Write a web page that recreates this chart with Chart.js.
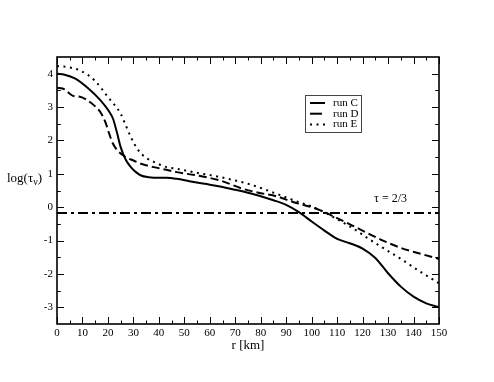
<!DOCTYPE html>
<html>
<head>
<meta charset="utf-8">
<script src="https://cdn.jsdelivr.net/npm/chart.js@4/dist/chart.umd.min.js"></script>
<style>
  html, body { margin: 0; padding: 0; background: #fff; }
  #wrap { width: 494px; height: 382px; }
</style>
</head>
<body>
<div id="wrap"><canvas id="tauChart" width="494" height="382"></canvas></div>
<script>
// r [km] and log(tau_v)
const rC = [0, 3, 7, 12, 17, 20, 22, 23.5, 25, 27, 29, 31, 33, 36, 40, 43, 47, 52, 58, 64, 70, 75, 80, 85, 90, 95, 100, 105, 110, 115, 120, 125, 130, 135, 140, 145, 150];
const logC = [4.00, 3.97, 3.86, 3.58, 3.21, 2.92, 2.65, 2.25, 1.80, 1.42, 1.20, 1.05, 0.95, 0.90, 0.88, 0.88, 0.85, 0.78, 0.70, 0.62, 0.52, 0.43, 0.33, 0.21, 0.07, -0.15, -0.43, -0.70, -0.95, -1.08, -1.24, -1.52, -1.98, -2.38, -2.68, -2.88, -3.00];

const rD = [0, 3, 5, 6.5, 9, 12, 15, 17, 19, 20.5, 22, 24, 27, 30, 33, 38, 43, 47, 55, 64, 73, 80, 86, 93, 99, 103, 110, 116, 122, 128, 135, 142, 150];
const logD = [3.58, 3.53, 3.40, 3.33, 3.31, 3.20, 3.02, 2.85, 2.55, 2.20, 1.90, 1.68, 1.50, 1.40, 1.30, 1.20, 1.12, 1.05, 0.95, 0.80, 0.55, 0.42, 0.33, 0.15, 0.02, -0.08, -0.33, -0.55, -0.78, -1.00, -1.22, -1.38, -1.55];

const rE = [0, 4, 9.5, 15, 20, 25, 27, 29, 32, 35, 38, 43, 47, 55, 63, 70, 76, 82, 88, 95, 100, 105, 110, 116, 122, 128, 135, 142, 150];
const logE = [4.23, 4.20, 4.08, 3.78, 3.30, 2.80, 2.45, 2.10, 1.70, 1.48, 1.36, 1.20, 1.15, 1.03, 0.92, 0.80, 0.68, 0.52, 0.35, 0.15, 0.02, -0.15, -0.36, -0.62, -0.93, -1.22, -1.55, -1.90, -2.28];

// tau = 2/3 reference line
const rTau = [0, 150];
const logTau = [Math.log10(2 / 3), Math.log10(2 / 3)];

const runLabels = ['run C', 'run D', 'run E'];
const xTicks = [0, 10, 20, 30, 40, 50, 60, 70, 80, 90, 100, 110, 120, 130, 140, 150];
const yTicks = [-3, -2, -1, 0, 1, 2, 3, 4];

const SERIF = "'Liberation Serif', 'DejaVu Serif', serif";
Chart.defaults.font.family = SERIF;
Chart.defaults.color = '#000';

function pts(xs, ys) {
    return xs.map((x, i) => ({ x: x, y: ys[i] }));
}

// frame with inward ticks on all four sides, plus the extra labels
const framePlugin = {
    id: 'frame',
    afterDatasetsDraw(chart) {
        const { ctx, chartArea: a, scales: { x, y } } = chart;
        ctx.save();
        ctx.strokeStyle = '#000';
        ctx.lineWidth = 1;
        ctx.beginPath();
        xTicks.forEach((v, i) => {
            const px = Math.round(x.getPixelForValue(v)) + 0.5;
            ctx.moveTo(px, a.bottom); ctx.lineTo(px, a.bottom - 7);
            ctx.moveTo(px, a.top); ctx.lineTo(px, a.top + 7);
            if (i < xTicks.length - 1) {
                const mx = Math.round(x.getPixelForValue(v + 5)) + 0.5;
                ctx.moveTo(mx, a.bottom); ctx.lineTo(mx, a.bottom - 3.5);
                ctx.moveTo(mx, a.top); ctx.lineTo(mx, a.top + 3.5);
            }
        });
        yTicks.forEach((v) => {
            const py = Math.round(y.getPixelForValue(v)) + 0.5;
            ctx.moveTo(a.left, py); ctx.lineTo(a.left + 7, py);
            ctx.moveTo(a.right, py); ctx.lineTo(a.right - 7, py);
            [v - 0.5, v + 0.5].forEach((m) => {
                if (m > y.min && m < y.max) {
                    const my = Math.round(y.getPixelForValue(m)) + 0.5;
                    ctx.moveTo(a.left, my); ctx.lineTo(a.left + 3.5, my);
                    ctx.moveTo(a.right, my); ctx.lineTo(a.right - 3.5, my);
                }
            });
        });
        ctx.stroke();
        ctx.lineWidth = 1.6;
        ctx.strokeRect(a.left, a.top, a.right - a.left, a.bottom - a.top);

        // y axis title with subscript
        ctx.fillStyle = '#000';
        ctx.textBaseline = 'alphabetic';
        ctx.textAlign = 'left';
        ctx.font = '13px ' + SERIF;
        let tx = 7;
        const ty = 182;
        ctx.fillText('log(\u03C4', tx, ty);
        tx += ctx.measureText('log(\u03C4').width;
        ctx.font = '10px ' + SERIF;
        ctx.fillText('\u03BD', tx, ty + 3);
        tx += ctx.measureText('\u03BD').width;
        ctx.font = '13px ' + SERIF;
        ctx.fillText(')', tx, ty);

        // tau = 2/3 label
        ctx.font = '12px ' + SERIF;
        ctx.textBaseline = 'middle';
        ctx.fillText('\u03C4 = 2/3', x.getPixelForValue(124.5), y.getPixelForValue(0.25));

        // legend box
        const bx = 305, by = 95, bw = 56, bh = 37;
        ctx.lineWidth = 1;
        ctx.strokeStyle = '#444';
        ctx.strokeRect(bx + 0.5, by + 0.5, bw, bh);
        ctx.font = '11px ' + SERIF;
        const sampleDash = [[], [13, 4], [2, 4.5]];
        runLabels.forEach((lab, i) => {
            const ds = chart.data.datasets[i];
            const ly = by + 8 + i * 10.7;
            ctx.strokeStyle = '#000';
            ctx.lineWidth = ds.borderWidth;
            ctx.setLineDash(sampleDash[i]);
            ctx.beginPath();
            ctx.moveTo(bx + 5, ly);
            ctx.lineTo(bx + (i === 1 ? 17 : 20), ly);
            ctx.stroke();
            ctx.setLineDash([]);
            ctx.fillText(lab, bx + 28, ly);
        });
        ctx.restore();
    }
};

const lineStyle = {
    borderColor: '#000',
    borderWidth: 2,
    pointRadius: 0,
    fill: false,
    cubicInterpolationMode: 'monotone'
};

new Chart(document.getElementById('tauChart').getContext('2d'), {
    type: 'line',
    data: {
        datasets: [
            Object.assign({ label: runLabels[0], data: pts(rC, logC) }, lineStyle),
            Object.assign({ label: runLabels[1], data: pts(rD, logD), borderDash: [8, 4] }, lineStyle),
            Object.assign({ label: runLabels[2], data: pts(rE, logE), borderDash: [2, 4.5] }, lineStyle),
            Object.assign({ label: 'tau', data: pts(rTau, logTau), borderDash: [10, 4, 3, 4] }, lineStyle)
        ]
    },
    options: {
        responsive: false,
        devicePixelRatio: 1,
        animation: false,
        layout: { padding: { left: 0, top: 57, right: 55, bottom: 29 } },
        plugins: {
            legend: { display: false },
            tooltip: { enabled: false }
        },
        scales: {
            x: {
                type: 'linear',
                min: 0,
                max: 150,
                grid: { display: false, drawTicks: false },
                border: { display: false },
                afterBuildTicks: (s) => { s.ticks = xTicks.map(v => ({ value: v })); },
                afterFit: (s) => { s.height = 29; },
                ticks: { padding: 3, maxRotation: 0, autoSkip: false, font: { size: 11 } },
                title: { display: true, text: 'r [km]', font: { size: 13 }, padding: 0 }
            },
            y: {
                type: 'linear',
                min: -3.5,
                max: 4.5,
                grid: { display: false, drawTicks: false },
                border: { display: false },
                afterBuildTicks: (s) => { s.ticks = yTicks.map(v => ({ value: v })); },
                afterFit: (s) => { s.width = 57; },
                ticks: { padding: 4, font: { size: 11 } }
            }
        }
    },
    plugins: [framePlugin]
});
</script>
</body>
</html>
